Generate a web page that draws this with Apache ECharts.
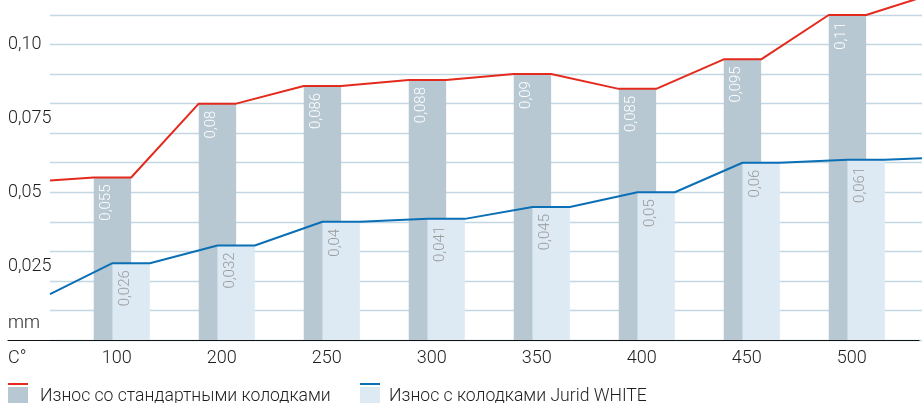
<!DOCTYPE html>
<html><head><meta charset="utf-8">
<script src="https://cdn.jsdelivr.net/npm/echarts@6/dist/echarts.min.js"></script>
<style>html,body{margin:0;padding:0;background:#fff}#c{width:922px;height:403px}</style>
</head><body><div id="c"></div>
<script>
// ---- data ----
const categories = ['100','200','250','300','350','400','450','500'];
const seriesNames = ['Износ со стандартными колодками','Износ с колодками Jurid WHITE'];
const stdWear = [0.055,0.08,0.086,0.088,0.09,0.085,0.095,0.11];
const juridWear = [0.026,0.032,0.04,0.041,0.045,0.05,0.06,0.061];
// values of the trend lines where they reach the left / right plot edges
const stdEdge = [0.054, 0.116];
const juridEdge = [0.0155, 0.0615];
const yTickValues = [0.025,0.05,0.075,0.1];
const yTickLabels = ['0,025','0,05','0,075','0,10'];
const yUnit = 'mm';
const xUnit = 'C°';

// ---- layout / style ----
const W = 922, TOP = 15, BOTTOM = 63;
const GRID_LINES_LEFT = 50;
const BAR_GRID_LEFT = 69.3, BAR_GRID_RIGHT = 12.7;
const BAR_W = 37.4;
const BAND = (W - BAR_GRID_LEFT - BAR_GRID_RIGHT) / categories.length;
const X_MIN = -0.5 - (BAR_GRID_LEFT - GRID_LINES_LEFT) / BAND;
const X_MAX = categories.length - 0.5 + BAR_GRID_RIGHT / BAND;
const Y_MAX = 0.11;
const FONT = 'Roboto';
const TXT = '#1e1e1e';
const C_STD_BAR = '#b8c8d2', C_JUR_BAR = '#ddeaf4';
const C_STD_LINE = '#e42a1d', C_JUR_LINE = '#0b6fb6';

function stepLine(values, edge, leftOff, rightOff) {
  const pts = [[X_MIN, edge[0]]];
  values.forEach((v, i) => { pts.push([i + leftOff, v]); pts.push([i + rightOff, v]); });
  pts.push([X_MAX, edge[1]]);
  return pts;
}
const q = BAR_W / BAND;
const stdLine = stepLine(stdWear, stdEdge, -0.75 * q, 0.25 * q);
const jurLine = stepLine(juridWear, juridEdge, -0.25 * q, 0.75 * q);
const fmt = v => String(v).replace('.', ',');

function barLabel(color) {
  return {
    show: true, position: 'insideTop', distance: 7, rotate: 90,
    align: 'right', verticalAlign: 'middle', offset: [0, -6],
    color: color, fontFamily: FONT, fontWeight: 300, fontSize: 15,
    formatter: p => fmt(p.value)
  };
}

const lineNames = [seriesNames[0] + ' (линия)', seriesNames[1] + ' (линия)'];

function legendPair(idx, left, padLeft) {
  return [
    { data: [seriesNames[idx]], left: left, top: 387, padding: 0, icon: 'rect',
      itemWidth: 20, itemHeight: 20, selectedMode: false,
      textStyle: { fontFamily: FONT, fontWeight: 300, fontSize: 17.6, color: TXT, padding: [0, 0, 6, padLeft] } },
    { data: [lineNames[idx]], left: left, top: 383, padding: 0, icon: 'rect',
      itemWidth: 20, itemHeight: 2, selectedMode: false, formatter: () => '',
      textStyle: { fontSize: 1 } }
  ];
}

const chart = echarts.init(document.getElementById('c'), null, { renderer: 'canvas' });
chart.setOption({
  animation: false,
  backgroundColor: '#fff',
  grid: [
    { left: BAR_GRID_LEFT, right: BAR_GRID_RIGHT, top: TOP, bottom: BOTTOM },
    { left: GRID_LINES_LEFT, right: 0, top: TOP, bottom: BOTTOM },
    { left: 8, right: 0, top: TOP, bottom: BOTTOM }
  ],
  legend: [].concat(legendPair(0, 8, 7), legendPair(1, 360, 4)),
  xAxis: [
    { type: 'category', gridIndex: 0, data: categories, boundaryGap: true,
      axisLine: { show: false }, axisTick: { show: false },
      axisLabel: { margin: 9, fontFamily: FONT, fontWeight: 300, fontSize: 18, color: TXT, padding: [0, 10, 0, 0] } },
    { type: 'value', gridIndex: 1, min: X_MIN, max: X_MAX, show: false },
    { type: 'value', gridIndex: 2, min: 0, max: 1, interval: 1,
      axisLine: { show: true, lineStyle: { color: '#111', width: 1.2 } },
      axisTick: { show: false }, splitLine: { show: false },
      axisLabel: { margin: 9, align: 'left', fontFamily: FONT, fontWeight: 300, fontSize: 18, color: TXT,
        formatter: v => v === 0 ? xUnit : '' } }
  ],
  yAxis: [
    { type: 'value', gridIndex: 0, min: 0, max: Y_MAX, show: false },
    { type: 'value', gridIndex: 1, min: 0, max: Y_MAX, interval: 0.01,
      axisLine: { show: false }, axisTick: { show: false }, axisLabel: { show: false },
      splitLine: { show: true, lineStyle: { color: '#c3d6e3', width: 1.3 } } },
    { type: 'value', gridIndex: 2, min: 0, max: Y_MAX, interval: 0.025,
      axisLine: { show: false }, axisTick: { show: false }, splitLine: { show: false },
      axisLabel: { inside: true, margin: 0, align: 'left', fontFamily: FONT, fontWeight: 300, fontSize: 18, color: TXT,
        formatter: v => { const i = yTickValues.findIndex(t => Math.abs(t - v) < 1e-9); return i >= 0 ? yTickLabels[i] : ''; } },
      name: yUnit, nameLocation: 'start', nameGap: -17,
      nameTextStyle: { align: 'left', verticalAlign: 'middle', fontFamily: FONT, fontWeight: 300, fontSize: 18, color: TXT } }
  ],
  series: [
    { name: seriesNames[0], type: 'bar', xAxisIndex: 0, yAxisIndex: 0, data: stdWear,
      barWidth: BAR_W, barGap: '-50%', itemStyle: { color: C_STD_BAR }, label: barLabel('#ffffff'), z: 2 },
    { name: seriesNames[1], type: 'bar', xAxisIndex: 0, yAxisIndex: 0, data: juridWear,
      barWidth: BAR_W, barGap: '-50%', itemStyle: { color: C_JUR_BAR }, label: barLabel('#9a9a9a'), z: 2 },
    { name: lineNames[0], type: 'line', xAxisIndex: 1, yAxisIndex: 1, data: stdLine, clip: false,
      symbol: 'none', color: C_STD_LINE, itemStyle: { color: C_STD_LINE },
      lineStyle: { color: C_STD_LINE, width: 2 }, z: 5 },
    { name: lineNames[1], type: 'line', xAxisIndex: 1, yAxisIndex: 1, data: jurLine, clip: false,
      symbol: 'none', color: C_JUR_LINE, itemStyle: { color: C_JUR_LINE },
      lineStyle: { color: C_JUR_LINE, width: 2 }, z: 5 }
  ]
});
</script></body></html>
